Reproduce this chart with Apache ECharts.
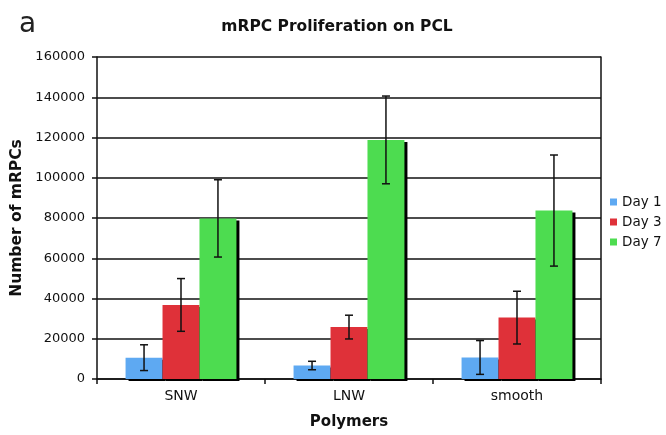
<!DOCTYPE html>
<html><head><meta charset="utf-8">
<script src="https://cdn.jsdelivr.net/npm/echarts@6/dist/echarts.min.js"></script>
<style>html,body{margin:0;padding:0;background:#fff}#c{width:666px;height:435px}</style>
</head><body><div id="c"></div>
<script>
const categories = ['SNW', 'LNW', 'smooth'];
const seriesNames = ['Day 1', 'Day 3', 'Day 7'];
const day1 = [10600, 6700, 10700];
const day1Err = [6400, 2100, 8400];
const day3 = [36800, 25800, 30500];
const day3Err = [13100, 5900, 13100];
const day7 = [79800, 118800, 83700];
const day7Err = [19200, 21800, 27600];
const yTicks = [0, 20000, 40000, 60000, 80000, 100000, 120000, 140000, 160000];

const colors = ['#5ea9f2', '#df3139', '#4ddc50'];
const values = [day1, day3, day7];
const errs = [day1Err, day3Err, day7Err];
const FONT = 'DejaVu Sans';
const chart = echarts.init(document.getElementById('c'), null, {renderer: 'canvas'});

const barSeries = values.map((v, i) => ({
  name: seriesNames[i], type: 'bar', data: v,
  barGap: '0%', barCategoryGap: '34%',
  itemStyle: {color: colors[i], shadowColor: '#000', shadowBlur: 0, shadowOffsetX: 3, shadowOffsetY: 2},
  emphasis: {disabled: true}, z: 2
}));

const errSeries = values.map((v, i) => ({
  name: seriesNames[i] + ' err', type: 'custom',
  data: v.map((val, k) => [k, val, errs[i][k]]),
  z: 5,
  renderItem: function (params, api) {
    const k = api.value(0), val = api.value(1), e = api.value(2);
    const band = api.size([1, 0])[0];
    const off = (i - 1) * band * 0.22;
    const top = api.coord([k, val + e]);
    const bot = api.coord([k, val - e]);
    const x = top[0] + off;
    const cap = 4;
    const st = {stroke: '#111', lineWidth: 1.5};
    return {type: 'group', children: [
      {type: 'line', shape: {x1: x, y1: top[1], x2: x, y2: bot[1]}, style: st},
      {type: 'line', shape: {x1: x - cap, y1: top[1], x2: x + cap, y2: top[1]}, style: st},
      {type: 'line', shape: {x1: x - cap, y1: bot[1], x2: x + cap, y2: bot[1]}, style: st}
    ]};
  }
}));

chart.setOption({
  animation: false,
  backgroundColor: '#fff',
  title: [
    {text: 'a', left: 19, top: 11, padding: 0, textStyle: {fontFamily: FONT, fontSize: 28, fontWeight: 'normal', color: '#222'}},
    {text: 'mRPC Proliferation on PCL', left: 337, top: 19, padding: 0, textAlign: 'center',
     textStyle: {fontFamily: FONT, fontSize: 15.5, fontWeight: 'bold', color: '#111'}}
  ],
  legend: {
    data: seriesNames, orient: 'vertical', left: 610, top: 195,
    itemWidth: 7, itemHeight: 7, itemGap: 6, icon: 'rect', padding: 0,
    textStyle: {fontFamily: FONT, fontSize: 13.5, color: '#111'}
  },
  grid: {left: 97, right: 65, top: 57, bottom: 51},
  xAxis: {
    type: 'category', data: categories,
    name: 'Polymers', nameLocation: 'middle', nameGap: 36,
    nameTextStyle: {fontFamily: FONT, fontSize: 15, fontWeight: 'bold', color: '#111'},
    axisLine: {lineStyle: {color: '#111', width: 1.5}},
    axisTick: {show: true, length: 5, lineStyle: {color: '#111', width: 1.5}},
    axisLabel: {fontFamily: FONT, fontSize: 14, color: '#111', margin: 10}
  },
  yAxis: [{
    type: 'value', min: yTicks[0], max: yTicks[yTicks.length - 1], interval: yTicks[1] - yTicks[0],
    name: 'Number of mRPCs', nameLocation: 'middle', nameGap: 68,
    nameTextStyle: {fontFamily: FONT, fontSize: 15.5, fontWeight: 'bold', color: '#111'},
    axisLine: {show: true, lineStyle: {color: '#111', width: 1.5}},
    axisTick: {show: true, length: 5, lineStyle: {color: '#111', width: 1.5}},
    axisLabel: {fontFamily: FONT, fontSize: 13, color: '#111', margin: 12, formatter: v => String(v)},
    splitLine: {show: true, lineStyle: {color: '#111', width: 1.6}}
  }, {
    type: 'value', position: 'right', min: 0, max: 160000,
    axisLine: {show: true, lineStyle: {color: '#111', width: 1.5}},
    axisTick: {show: false}, axisLabel: {show: false}, splitLine: {show: false}
  }],
  series: barSeries.concat(errSeries)
});
</script></body></html>
